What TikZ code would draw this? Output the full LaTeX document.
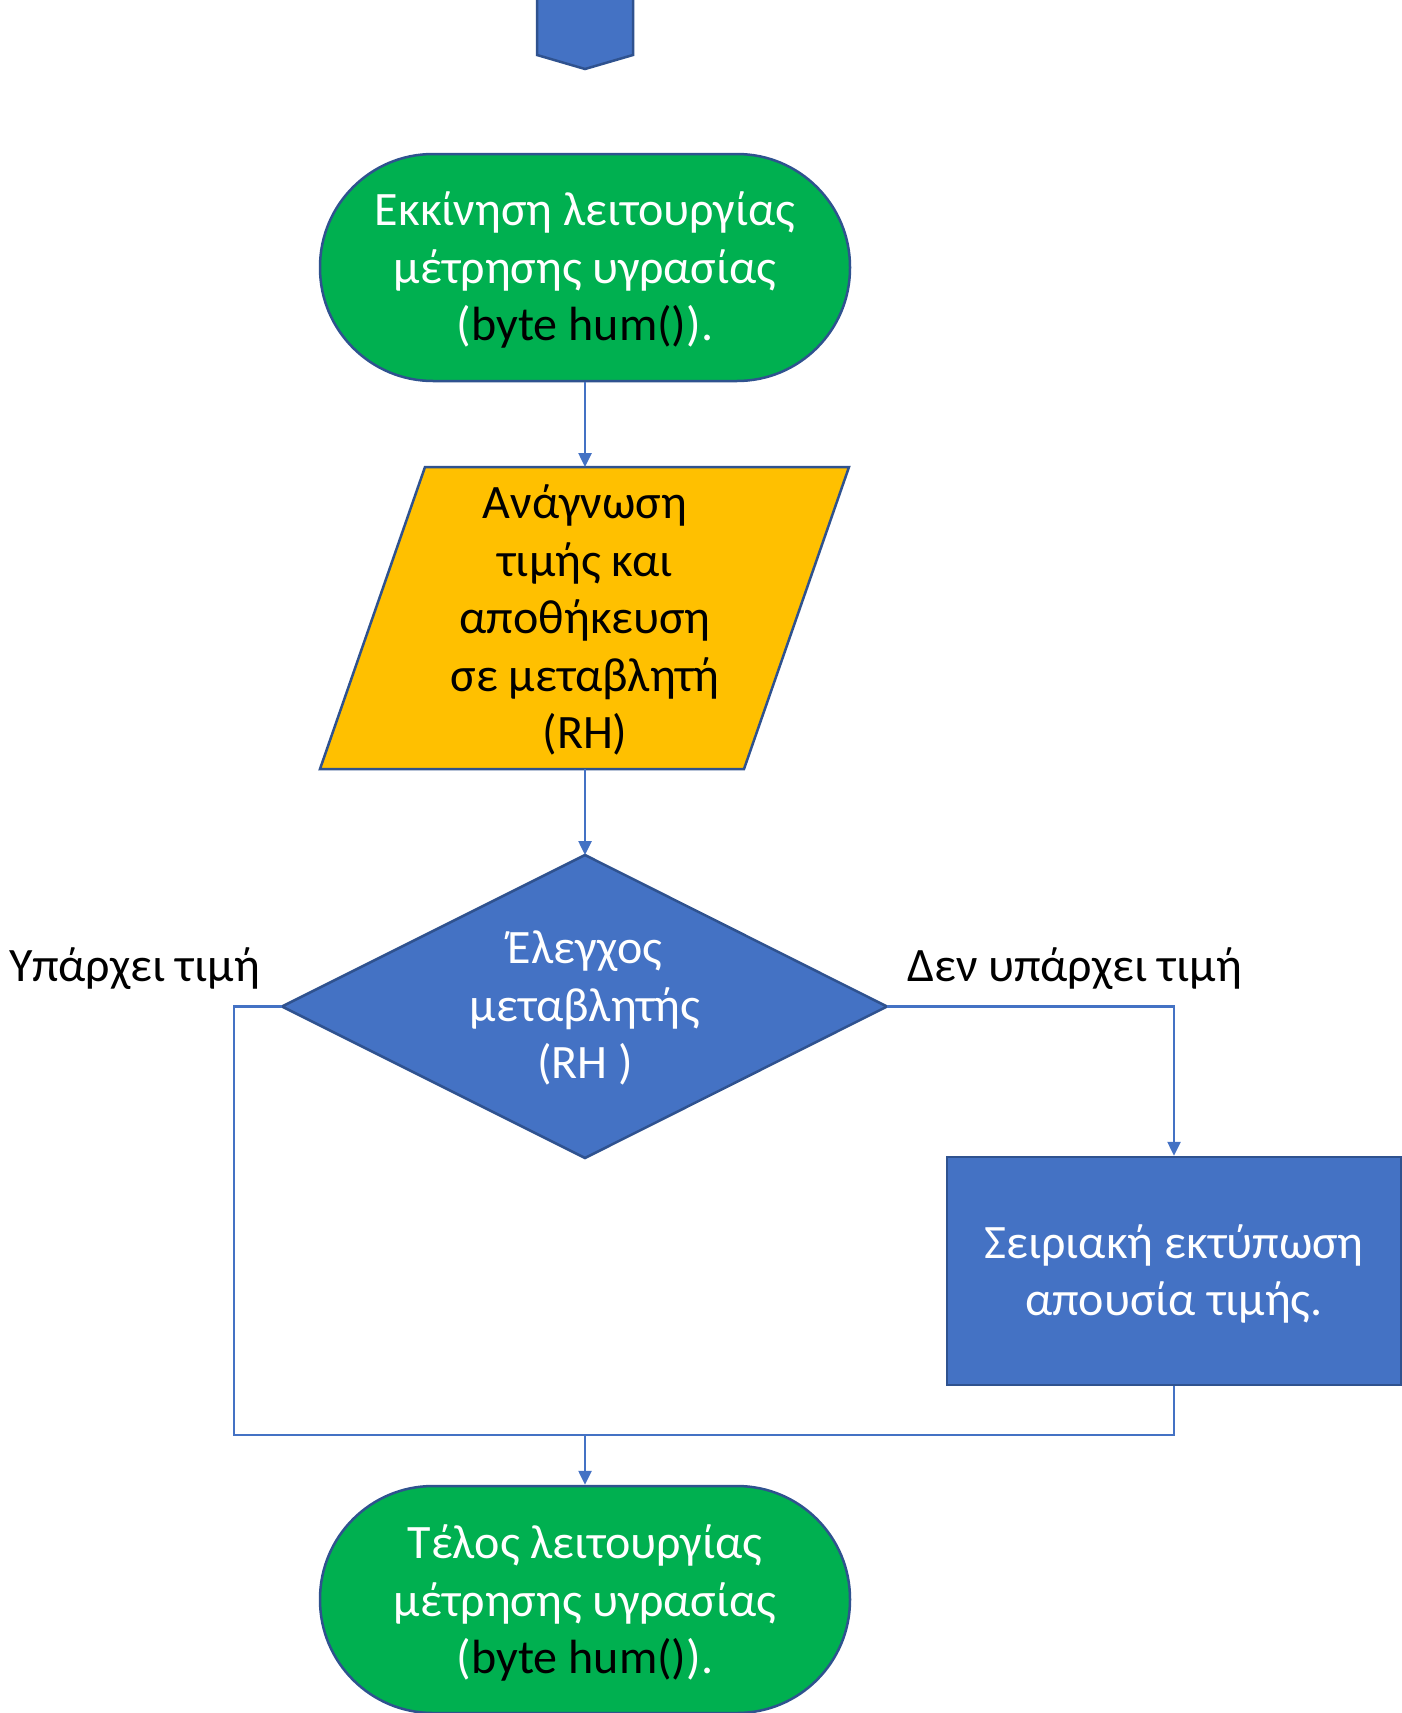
\documentclass[tikz,border=0pt]{standalone}
\usepackage{fontspec}
\setmainfont{Carlito}
\usetikzlibrary{arrows.meta}
\definecolor{fgreen}{HTML}{00B050}
\definecolor{fyellow}{HTML}{FFC000}
\definecolor{fblue}{HTML}{4472C4}
\definecolor{fborder}{HTML}{2F528F}
\begin{document}
\begin{tikzpicture}[x=1pt,y=-1pt,
  shapeline/.style={draw=fborder,line width=2.5pt},
  terminal/.style={shapeline,fill=fgreen,rounded corners=113pt,minimum width=530pt,minimum height=227pt,inner sep=0pt},
  procbox/.style={shapeline,fill=fblue,minimum width=454pt,minimum height=228pt,inner sep=0pt},
  txt/.style={align=center,font=\fontsize{48}{57.5}\selectfont,inner sep=0pt},
  lbl/.style={font=\fontsize{48}{57.5}\selectfont,inner sep=0pt,anchor=west},
  conn/.style={draw=fblue,line width=2.5pt},
  arr/.style={conn,-{Triangle[length=14pt,width=13pt]}}
]
\useasboundingbox (0,0) rectangle (1401,1713);
% off-page connector
\draw[shapeline,fill=fblue] (537,-2) -- (633,-2) -- (633,55) -- (585,69) -- (537,55) -- cycle;
% start
\node[terminal] (start) at (585,267.5) {};
\node[txt,text=white] (starttxt) at (585,270) {Εκκίνηση λειτουργίας\\μέτρησης υγρασίας\\(\textcolor{black}{byte hum()}).};
% parallelogram
\coordinate (pTL) at (425,467);
\coordinate (pTR) at (849,467);
\coordinate (pBR) at (744,769);
\coordinate (pBL) at (320,769);
\coordinate (pTop) at (585,467);
\coordinate (pBot) at (585,769);
\draw[shapeline,fill=fyellow] (pTL) -- (pTR) -- (pBR) -- (pBL) -- cycle;
\node[txt,text=black] (readtxt) at (585,620) {Ανάγνωση\\τιμής και\\αποθήκευση\\σε μεταβλητή\\(RH)};
% diamond
\coordinate (dT) at (585,855);
\coordinate (dR) at (887,1006.5);
\coordinate (dB) at (585,1158);
\coordinate (dL) at (282,1006.5);
\draw[shapeline,fill=fblue] (dT) -- (dR) -- (dB) -- (dL) -- cycle;
\node[txt,text=white] (dtxt) at (585,1008) {Έλεγχος\\μεταβλητής\\(RH )};
% process box
\node[procbox] (print) at (1174,1271) {};
\node[txt,text=white] (printtxt) at (1174,1274) {Σειριακή εκτύπωση\\απουσία τιμής.};
% end
\node[terminal] (end) at (585,1599.5) {};
\node[txt,text=white] (endtxt) at (585,1603) {Τέλος λειτουργίας\\μέτρησης υγρασίας\\(\textcolor{black}{byte hum()}).};
% labels
\node[lbl] (yes) at (9,969) {Υπάρχει τιμή};
\node[lbl] (no) at (907,969) {Δεν υπάρχει τιμή};
% connectors
\coordinate (merge) at (585,1435);
\draw[arr] (start.south) -- (pTop);
\draw[arr] (pBot) -- (dT);
\draw[arr] (dR) -| (print.north);
\draw[conn] (dL) -- (234,1006.5) |- (merge);
\draw[conn] (print.south) |- (merge);
\draw[arr] (merge) -- (end.north);
\end{tikzpicture}
\end{document}
